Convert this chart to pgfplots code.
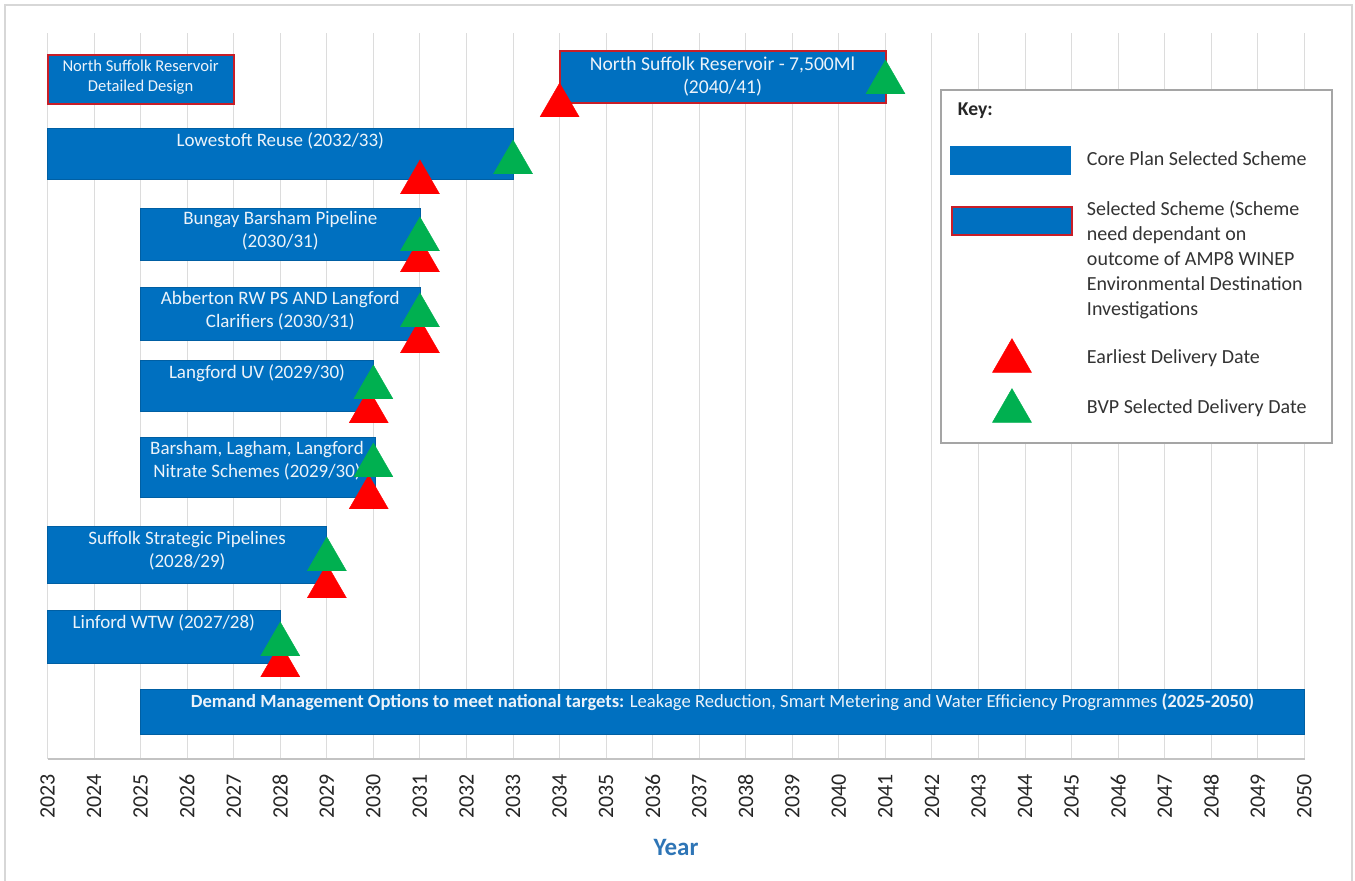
\documentclass[border=0pt]{standalone}
\usepackage{fontspec}
\setmainfont{Carlito}
\usepackage{pgfplots}
\pgfplotsset{compat=1.18}

\definecolor{barblue}{RGB}{0,112,192}
\definecolor{bartext}{RGB}{236,243,250}
\definecolor{schemered}{RGB}{200,30,40}
\definecolor{trired}{RGB}{255,0,0}
\definecolor{trigreen}{RGB}{0,176,80}
\definecolor{gridgray}{RGB}{220,220,220}
\definecolor{axisgray}{RGB}{195,195,195}
\definecolor{framegray}{RGB}{215,215,215}
\definecolor{legendgray}{RGB}{165,165,165}
\definecolor{yearblue}{RGB}{46,117,182}

\tikzset{
  barlabel/.style={text=bartext, align=center, inner sep=0pt,
    font=\fontsize{9.5}{11.5}\selectfont},
}
% lanes: y runs downwards, 33 (top) to 759 (time axis)
\pgfplotsset{
  scheme/.style={fill=barblue, draw=barblue!85!black, line width=0.4pt, forget plot},
  envscheme/.style={fill=barblue, draw=schemered, line width=1pt, forget plot},
  earliest/.style={only marks, mark=triangle*, mark size=11.25pt,
    mark options={fill=trired, draw=trired, line width=0.2pt}},
  bvp/.style={only marks, mark=triangle*, mark size=11.25pt,
    mark options={fill=trigreen, draw=trigreen, line width=0.2pt}},
  % key rows: an invisible box fixes each row's height
  keytitle/.style={legend image code/.code={
    \path[draw=none, fill=none] (0pt,-12.5pt) rectangle (60pt,7pt);
    \node[anchor=west, inner sep=0pt, font=\fontsize{9.8}{11}\selectfont\bfseries, text=black!85] at (3pt,0pt) {Key:};}},
  keycore/.style={legend image code/.code={
    \path[draw=none, fill=none] (0pt,-18pt) rectangle (60pt,12.5pt);
    \fill[barblue] (0pt,-6.75pt) rectangle (59.5pt,6.75pt);}},
  keyenv/.style={legend image code/.code={
    \path[draw=none, fill=none] (0pt,-54.25pt) rectangle (60pt,7pt);
    \fill[barblue] (0.5pt,-12.25pt) rectangle (60.5pt,1.75pt);
    \draw[schemered, line width=1pt] (0.5pt,-12.25pt) rectangle (60.5pt,1.75pt);}},
  keyearliest/.style={legend image code/.code={
    \path[draw=none, fill=none] (0pt,-10.75pt) rectangle (60pt,19.75pt);
    \draw[##1] plot coordinates {(30.5pt,-1.05pt)};}},
  keybvp/.style={legend image code/.code={
    \path[draw=none, fill=none] (0pt,-13.5pt) rectangle (60pt,14.25pt);
    \draw[##1] plot coordinates {(30.5pt,-1.05pt)};}},
}
\newcommand{\keytext}[1]{\parbox[t]{118pt}{\raggedright #1}}

\begin{document}
\begin{tikzpicture}
\useasboundingbox (0,0) rectangle (677.5pt,440pt);
\draw[framegray, line width=0.75pt] (2.5pt,-2pt) -- (2.5pt,437.5pt) -- (676pt,437.5pt) -- (676pt,-2pt);
\begin{axis}[
  at={(23.75pt,60.5pt)}, anchor=south west,
  scale only axis, width=628.5pt, height=363pt,
  xmin=2023, xmax=2050, ymin=33, ymax=759, y dir=reverse,
  axis x line=bottom, axis y line=none,
  x axis line style={draw=axisgray, line width=1pt, -},
  xtick={2023,...,2050}, major tick length=0pt,
  xmajorgrids, grid style={draw=gridgray, line width=0.5pt},
  xticklabel style={rotate=90, anchor=east, font=\fontsize{11}{13}\selectfont, text=black!85},
  xticklabel shift=4pt,
  /pgf/number format/1000 sep={},
  /pgf/number format/assume math mode=true,
  xlabel={Year},
  xlabel style={at={(axis description cs:0.5,0)}, anchor=center, yshift=-44pt,
    font=\fontsize{12.5}{15}\selectfont\bfseries, text=yearblue},
  clip=false,
  legend style={at={(0.7100,0.9229)}, anchor=north west,
    draw=legendgray, line width=1pt, fill=white,
    inner xsep=4.5pt, inner ysep=3.5pt, row sep=0pt, column sep=7pt,
    font=\fontsize{10}{12.4}\selectfont, text=black!80,
    cells={anchor=west}, nodes={inner sep=0pt, text height=7pt, text depth=2pt}},
]

% scheme bars (start year, end year, lane top, lane bottom)
\addplot[envscheme] coordinates {(2023,55) (2027,55) (2027,104) (2023,104)} -- cycle;
\addplot[envscheme] coordinates {(2034,51) (2041,51) (2041,103) (2034,103)} -- cycle;
\addplot[scheme] coordinates {(2023,128) (2033,128) (2033,179) (2023,179)} -- cycle;
\addplot[scheme] coordinates {(2025,208) (2031,208) (2031,260) (2025,260)} -- cycle;
\addplot[scheme] coordinates {(2025,287) (2031,287) (2031,340) (2025,340)} -- cycle;
\addplot[scheme] coordinates {(2025,360) (2030,360) (2030,411) (2025,411)} -- cycle;
\addplot[scheme] coordinates {(2025,437) (2030.05,437) (2030.05,497) (2025,497)} -- cycle;
\addplot[scheme] coordinates {(2023,526) (2029,526) (2029,583) (2023,583)} -- cycle;
\addplot[scheme] coordinates {(2023,610) (2028,610) (2028,663) (2023,663)} -- cycle;
\addplot[scheme] coordinates {(2025,689) (2050,689) (2050,734) (2025,734)} -- cycle;

% scheme names
\node[barlabel, font=\fontsize{8.3}{10}\selectfont] at (axis cs:2025,77) {North Suffolk Reservoir\\Detailed Design};
\node[barlabel, font=\fontsize{9.8}{11.5}\selectfont] at (axis cs:2037.5,76.5) {North Suffolk Reservoir - 7,500Ml\\(2040/41)};
\node[barlabel] at (axis cs:2028,141) {Lowestoft Reuse (2032/33)};
\node[barlabel] at (axis cs:2028,230.5) {Bungay Barsham Pipeline\\(2030/31)};
\node[barlabel] at (axis cs:2028,310.5) {Abberton RW PS AND Langford\\Clarifiers (2030/31)};
\node[barlabel] at (axis cs:2027.5,373) {Langford UV (2029/30)};
\node[barlabel] at (axis cs:2027.5,461) {Barsham, Lagham, Langford\\Nitrate Schemes (2029/30)};
\node[barlabel] at (axis cs:2026,550.5) {Suffolk Strategic Pipelines\\(2028/29)};
\node[barlabel] at (axis cs:2025.5,623) {Linford WTW (2027/28)};
\node[barlabel, font=\fontsize{9.3}{11}\selectfont] at (axis cs:2037.5,702)
  {\textbf{Demand Management Options to meet national targets:} Leakage Reduction, Smart Metering and Water Efficiency Programmes \textbf{(2025-2050)}};

% earliest delivery dates
\addplot[earliest, forget plot] coordinates {
  (2034,105.5) (2031,182.5) (2031,260.5) (2031,341.5)
  (2029.9,411.5) (2029.9,497.5) (2029,586.5) (2028,665.5)};
% BVP selected delivery dates
\addplot[bvp, forget plot] coordinates {
  (2041,82.5) (2033,162.5) (2031,239.5) (2031,315.5)
  (2030,387.5) (2030,465.5) (2029,559.5) (2028,644.5)};

% key
\addlegendimage{keytitle}
\addlegendentry{}
\addlegendimage{keycore}
\addlegendentry{\keytext{Core Plan Selected Scheme}}
\addlegendimage{keyenv}
\addlegendentry{\keytext{Selected Scheme (Scheme\\need dependant on\\outcome of AMP8 WINEP\\Environmental Destination\\Investigations}}
\addlegendimage{earliest, keyearliest}
\addlegendentry{\keytext{Earliest Delivery Date}}
\addlegendimage{bvp, keybvp}
\addlegendentry{\keytext{BVP Selected Delivery Date}}
\end{axis}
\end{tikzpicture}
\end{document}
